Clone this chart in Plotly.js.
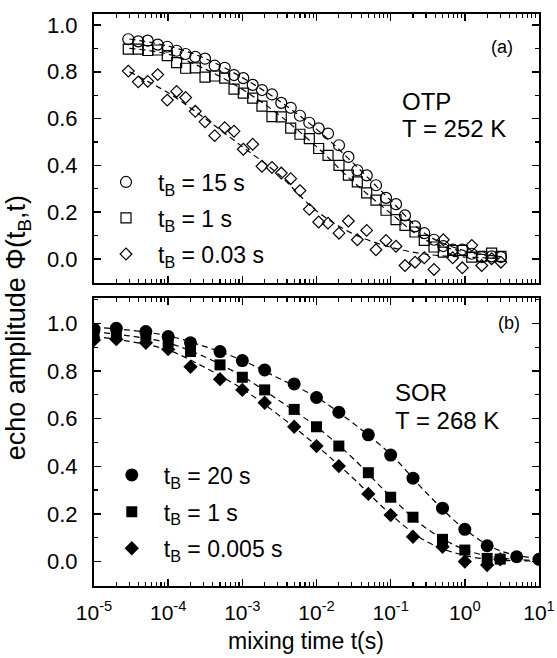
<!DOCTYPE html>
<html>
<head>
<meta charset="utf-8">
<script src="https://cdn.plot.ly/plotly-3.0.1.min.js"></script>
<style>html,body{margin:0;padding:0;background:#fff;}#chart{width:557px;height:658px;}</style>
</head>
<body>
<div id="chart"></div>
<script>
// ---------- data: panel (a) OTP, T = 252 K ----------
const otpTimes = [2.90e-5, 3.95e-5, 5.30e-5, 7.23e-5, 9.73e-5, 1.30e-4, 1.72e-4, 2.32e-4, 3.14e-4, 4.24e-4,
  5.78e-4, 7.73e-4, 1.03e-3, 1.38e-3, 1.84e-3, 2.51e-3, 3.35e-3, 4.49e-3, 5.98e-3, 8.0e-3,
  1.07e-2, 1.43e-2, 2.01e-2, 2.69e-2, 3.55e-2, 4.75e-2, 6.34e-2, 8.65e-2, 0.118, 0.156,
  0.213, 0.284, 0.384, 0.513, 0.686, 0.925, 1.24, 1.69, 2.30, 3.07];
const otp15s = [0.939, 0.930, 0.933, 0.916, 0.907, 0.890, 0.876, 0.864, 0.856, 0.826,
  0.817, 0.786, 0.773, 0.744, 0.722, 0.703, 0.667, 0.646, 0.612, 0.582,
  0.558, 0.536, 0.486, 0.436, 0.379, 0.357, 0.315, 0.261, 0.234, 0.186,
  0.139, 0.110, 0.082, 0.055, 0.040, 0.040, 0.022, 0.008, 0.011, 0.008];
const otp1s = [0.897, 0.897, 0.891, 0.893, 0.869, 0.839, 0.815, 0.817, 0.777, 0.782,
  0.773, 0.726, 0.709, 0.687, 0.653, 0.608, 0.607, 0.559, 0.533, 0.514,
  0.472, 0.443, 0.400, 0.358, 0.329, 0.282, 0.251, 0.208, 0.168, 0.143,
  0.115, 0.079, 0.051, 0.029, 0.036, 0.036, 0.008, 0.011, 0.025, 0.011];
const otp003s = [0.803, 0.757, 0.759, 0.788, 0.679, 0.716, 0.690, 0.631, 0.586, 0.527,
  0.561, 0.546, 0.469, 0.490, 0.396, 0.391, 0.367, 0.343, 0.292, 0.212,
  0.158, 0.153, 0.110, 0.162, 0.082, 0.122, 0.039, 0.079, 0.054, -0.028,
  -0.014, 0.005, -0.045, 0.082, 0.005, -0.038, 0.058, -0.028, 0.001, -0.014];
const otpFitTimes = [3e-5, 1e-4, 3e-4, 1e-3, 3e-3, 1e-2, 3e-2, 0.1, 0.3, 1, 3];
const otp15Fit  = [0.940, 0.910, 0.860, 0.775, 0.680, 0.555, 0.415, 0.250, 0.105, 0.035, 0.010];
const otp1Fit   = [0.900, 0.875, 0.815, 0.725, 0.620, 0.480, 0.335, 0.195, 0.080, 0.030, 0.010];
const otp003Fit = [0.800, 0.710, 0.605, 0.480, 0.365, 0.205, 0.110, 0.050, 0.020, 0.008, 0.003];

// ---------- data: panel (b) SOR, T = 268 K ----------
const sorTimes20 = [1e-5, 2e-5, 5e-5, 1e-4, 2e-4, 5e-4, 1e-3, 2e-3, 5e-3, 1e-2, 2e-2, 5e-2, 0.1, 0.2, 0.5, 1, 2, 5, 10];
const sor20s = [0.976, 0.980, 0.966, 0.945, 0.919, 0.882, 0.844, 0.805, 0.746, 0.689, 0.627, 0.532, 0.447, 0.350, 0.224, 0.135, 0.066, 0.020, 0.009];
const sorTimesShort = [1e-5, 2e-5, 5e-5, 1e-4, 2e-4, 5e-4, 1e-3, 2e-3, 5e-3, 1e-2, 2e-2, 5e-2, 0.1, 0.2, 0.5, 1, 2, 3];
const sor1s = [0.952, 0.961, 0.952, 0.924, 0.882, 0.826, 0.774, 0.721, 0.639, 0.566, 0.485, 0.373, 0.270, 0.186, 0.093, 0.048, 0.013, 0.010];
const sor0005s = [0.931, 0.934, 0.919, 0.892, 0.818, 0.766, 0.721, 0.667, 0.566, 0.485, 0.401, 0.284, 0.195, 0.104, 0.062, 0.000, -0.015, 0.009];
const sorFitTimes = [1e-5, 3e-5, 1e-4, 3e-4, 1e-3, 3e-3, 1e-2, 3e-2, 0.1, 0.3, 1, 3, 10];
const sor20Fit   = [0.985, 0.972, 0.948, 0.905, 0.845, 0.772, 0.690, 0.585, 0.450, 0.290, 0.135, 0.045, 0.012];
const sor1Fit    = [0.965, 0.948, 0.918, 0.862, 0.778, 0.680, 0.566, 0.438, 0.272, 0.140, 0.050, 0.015, 0.004];
const sor0005Fit = [0.945, 0.925, 0.888, 0.818, 0.725, 0.618, 0.487, 0.355, 0.198, 0.085, 0.025, 0.006, 0.002];

// ---------- labels ----------
const xTickVals = [1e-5, 1e-4, 1e-3, 1e-2, 1e-1, 1, 10];
const xTickText = ['10<sup>-5</sup>', '10<sup>-4</sup>', '10<sup>-3</sup>', '10<sup>-2</sup>', '10<sup>-1</sup>', '10<sup>0</sup>', '10<sup>1</sup>'];
const yTickVals = [0, 0.2, 0.4, 0.6, 0.8, 1.0];
const yTickText = ['0.0', '0.2', '0.4', '0.6', '0.8', '1.0'];
const otpNames = ['t<sub>B</sub> = 15 s', 't<sub>B</sub> = 1 s', 't<sub>B</sub> = 0.03 s'];
const sorNames = ['t<sub>B</sub> = 20 s', 't<sub>B</sub> = 1 s', 't<sub>B</sub> = 0.005 s'];

const FONT = 'Liberation Sans, Arial, Helvetica, sans-serif';
const K = '#000';

function fit(x, y, xa, ya) {
  return {x: x, y: y, xaxis: xa, yaxis: ya, mode: 'lines', line: {color: K, width: 1.2, dash: '6px,4px', shape: 'spline'}, showlegend: false, hoverinfo: 'skip'};
}
function pts(x, y, xa, ya, sym, size, name, leg, lw) {
  return {x: x, y: y, xaxis: xa, yaxis: ya, mode: 'markers', name: name, legend: leg,
    marker: {symbol: sym, size: size, color: K, line: {color: K, width: lw}}};
}

const traces = [
  fit(otpFitTimes, otp15Fit, 'x', 'y'),
  fit(otpFitTimes, otp1Fit, 'x', 'y'),
  fit(otpFitTimes, otp003Fit, 'x', 'y'),
  pts(otpTimes, otp15s, 'x', 'y', 'circle-open', 11, otpNames[0], 'legend', 1.2),
  pts(otpTimes, otp1s, 'x', 'y', 'square-open', 10, otpNames[1], 'legend2', 1.2),
  pts(otpTimes, otp003s, 'x', 'y', 'diamond-open', 9, otpNames[2], 'legend3', 1.2),
  fit(sorFitTimes, sor20Fit, 'x2', 'y2'),
  fit(sorFitTimes, sor1Fit, 'x2', 'y2'),
  fit(sorFitTimes, sor0005Fit, 'x2', 'y2'),
  pts(sorTimes20, sor20s, 'x2', 'y2', 'circle', 13, sorNames[0], 'legend4', 0),
  pts(sorTimesShort, sor1s, 'x2', 'y2', 'square', 11, sorNames[1], 'legend5', 0),
  pts(sorTimesShort, sor0005s, 'x2', 'y2', 'diamond', 11, sorNames[2], 'legend6', 0)
];

function xaxis(anchor, labels) {
  return {type: 'log', range: [-5, 1], anchor: anchor, domain: [0, 1],
    tickvals: xTickVals, ticktext: xTickText, showticklabels: labels,
    ticks: 'inside', ticklen: 7, tickwidth: 1.5, tickcolor: K, ticklabelstandoff: 7,
    minor: {ticks: 'inside', ticklen: 4, tickwidth: 1.2, tickcolor: K, dtick: 'D1', showgrid: false},
    showline: true, linewidth: 2, linecolor: K, mirror: 'ticks',
    showgrid: false, zeroline: false, tickfont: {family: FONT, size: 21, color: K}};
}
function yaxis(anchor, domain, range) {
  return {range: range, anchor: anchor, domain: domain,
    tickvals: yTickVals, ticktext: yTickText,
    ticks: 'inside', ticklen: 7, tickwidth: 1.5, tickcolor: K, ticklabelstandoff: 10,
    minor: {ticks: 'inside', ticklen: 4, tickwidth: 1.2, tickcolor: K, dtick: 0.1, tick0: 0, showgrid: false},
    showline: true, linewidth: 2, linecolor: K, mirror: 'ticks',
    showgrid: false, zeroline: false, tickfont: {family: FONT, size: 22, color: K}};
}

const legendBase = {xanchor: 'left', yanchor: 'middle', bgcolor: 'rgba(0,0,0,0)', borderwidth: 0,
  font: {family: FONT, size: 23, color: K}, itemwidth: 54, tracegroupgap: 0};
const leg = (x, y) => Object.assign({x: x, y: y}, legendBase);

const ann = (text, x, y, size, xanchor, extra) => Object.assign({text: text, x: x, y: y, xref: 'paper', yref: 'paper',
  xanchor: xanchor, yanchor: 'middle', showarrow: false, font: {family: FONT, size: size, color: K}}, extra || {});

const layout = {
  width: 557, height: 658,
  margin: {l: 94, r: 18, t: 14, b: 72},
  paper_bgcolor: '#fff', plot_bgcolor: '#fff',
  font: {family: FONT, color: K},
  showlegend: true,
  xaxis: xaxis('y', false),
  yaxis: yaxis('x', [0.5297, 1], [-0.103, 1.047]),
  xaxis2: xaxis('y2', true),
  yaxis2: yaxis('x2', [0, 0.5035], [-0.103, 1.107]),
  legend: leg(0.0, 0.7063),
  legend2: leg(0.0, 0.6434),
  legend3: leg(0.0, 0.5804),
  legend4: leg(0.013, 0.1941),
  legend5: leg(0.013, 0.1299),
  legend6: leg(0.013, 0.0659),
  annotations: [
    ann('(a)', 0.917, 0.942, 18, 'center'),
    ann('OTP', 0.688, 0.8465, 24, 'left'),
    ann('T = 252 K', 0.688, 0.7990, 24, 'left'),
    ann('(b)', 0.933, 0.460, 18, 'center'),
    ann('SOR', 0.672, 0.3375, 24, 'left'),
    ann('T = 268 K', 0.672, 0.2895, 24, 'left'),
    ann('mixing time t(s)', 0.476, -0.096, 23, 'center'),
    ann('echo amplitude Φ(t<sub>B</sub>,t)', -0.169, 0.452, 27, 'center', {textangle: -90})
  ]
};

Plotly.newPlot('chart', traces, layout, {displayModeBar: false, staticPlot: true});
</script>
</body>
</html>
